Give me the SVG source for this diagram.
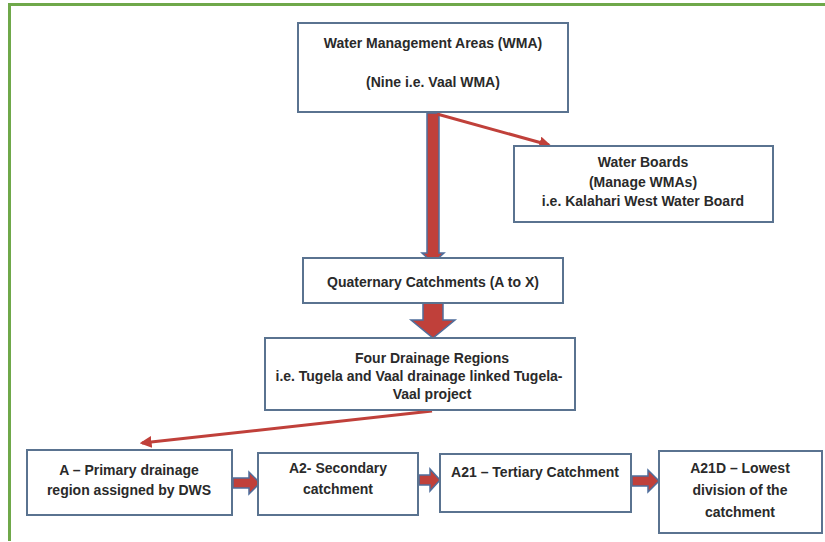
<svg xmlns="http://www.w3.org/2000/svg" width="825" height="542" viewBox="0 0 825 542">
<defs>
<style>
.box{fill:#fff;stroke:#5a7390;stroke-width:2}
.t{font-family:"Liberation Sans",Arial,sans-serif;font-weight:bold;font-size:14px;fill:#2a2a2a;text-anchor:middle}
.fat{fill:#c0403a;stroke:#4f6e9c;stroke-width:1.5}
.thin{stroke:#c0403a;stroke-width:3;fill:none}
</style>
<marker id="ah" viewBox="0 0 10 10" refX="8" refY="5" markerWidth="4" markerHeight="4" orient="auto-start-reverse">
<path d="M0,0 L10,5 L0,10 z" fill="#c0403a"/>
</marker>
</defs>
<rect width="825" height="542" fill="#fff"/>
<path d="M9.5,541 V4.5 H825" fill="none" stroke="#6fa84a" stroke-width="3"/>
<g id="connectors">
<path class="fat" d="M427,113 H439 V253 H444 L433,263 L422,253 H427 Z"/>
<path class="fat" d="M423,303 H443 V320 H455 L433,338 L411,320 H423 Z"/>
<line class="thin" x1="437" y1="114" x2="549" y2="145" marker-end="url(#ah)"/>
<line class="thin" x1="432" y1="411" x2="142" y2="443" marker-end="url(#ah)"/>
<path class="fat" d="M233,478 H249 V472 L260,483 L249,494 V488 H233 Z"/>
<path class="fat" d="M419,475 H430 V469 L440,480 L430,491 V485 H419 Z"/>
<path class="fat" d="M632,476 H648 V470 L659,481 L648,492 V486 H632 Z"/>
</g>
<g id="wma">
<rect class="box" x="298" y="23" width="270" height="89"/>
<text class="t" x="433" y="48">Water Management Areas (WMA)</text>
<text class="t" x="433" y="87">(Nine i.e. Vaal WMA)</text>
</g>
<g id="boards">
<rect class="box" x="514" y="146" width="259" height="76"/>
<text class="t" x="643" y="167">Water Boards</text>
<text class="t" x="643" y="187">(Manage WMAs)</text>
<text class="t" x="643" y="206">i.e.  Kalahari West Water Board</text>
</g>
<g id="quaternary">
<rect class="box" x="303" y="258" width="260" height="45"/>
<text class="t" x="433" y="287">Quaternary Catchments (A to X)</text>
</g>
<g id="drainage">
<rect class="box" x="265" y="338" width="310" height="72"/>
<text class="t" x="432" y="363">Four Drainage Regions</text>
<text class="t" x="419" y="381" textLength="287" lengthAdjust="spacingAndGlyphs">i.e. Tugela and Vaal drainage linked Tugela-</text>
<text class="t" x="432" y="399">Vaal project</text>
</g>
<g id="primary">
<rect class="box" x="27" y="450" width="205" height="65"/>
<text class="t" x="129" y="475">A – Primary drainage</text>
<text class="t" x="129" y="495">region assigned by DWS</text>
</g>
<g id="secondary">
<rect class="box" x="258" y="453" width="160" height="62"/>
<text class="t" x="338" y="473">A2- Secondary</text>
<text class="t" x="338" y="494">catchment</text>
</g>
<g id="tertiary">
<rect class="box" x="440" y="454" width="191" height="58"/>
<text class="t" x="535" y="477">A21 – Tertiary Catchment</text>
</g>
<g id="lowest">
<rect class="box" x="659" y="451" width="163" height="82"/>
<text class="t" x="740" y="473">A21D – Lowest</text>
<text class="t" x="740" y="495">division of the</text>
<text class="t" x="740" y="517">catchment</text>
</g>
</svg>
